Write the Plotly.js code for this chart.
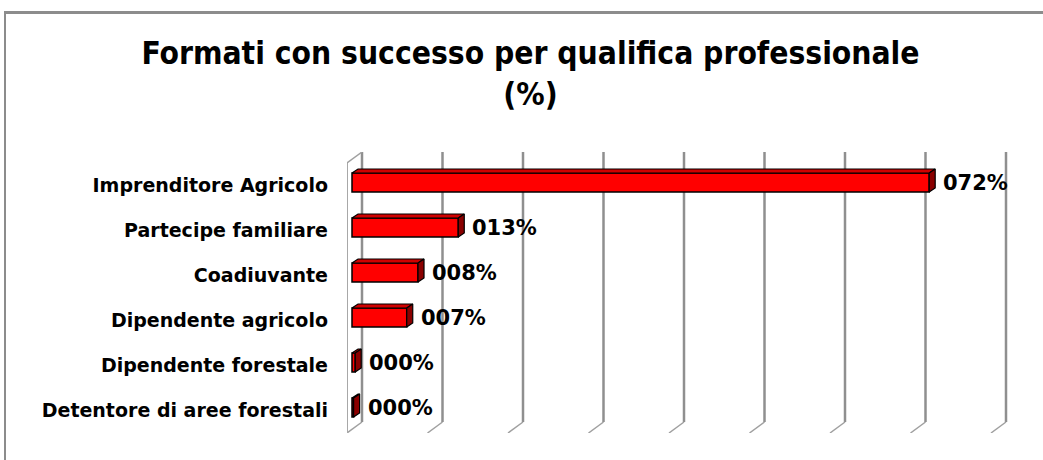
<!DOCTYPE html>
<html>
<head>
<meta charset="utf-8">
<script src="https://cdn.plot.ly/plotly-3.0.1.min.js"></script>
<style>
  html, body { margin: 0; padding: 0; background: #ffffff; }
  #wrap { position: relative; width: 1043px; height: 460px; overflow: hidden; }
  #chart { width: 1043px; height: 460px; }
  #frame { position: absolute; left: 4px; top: 11px; width: 1100px; height: 500px;
           border-left: 2px solid #8c8c8c; border-top: 3px solid #8c8c8c; pointer-events: none; }
</style>
</head>
<body>
<div id="wrap">
  <div id="chart"></div>
  <div id="frame"></div>
</div>
<script>
// ---- data ----
const categories = [
  'Imprenditore Agricolo',
  'Partecipe familiare',
  'Coadiuvante',
  'Dipendente agricolo',
  'Dipendente forestale',
  'Detentore di aree forestali'
];
const values = [71.7, 13.2, 8.2, 6.8, 0.4, 0.2];
const gridTicks = [0, 10, 20, 30, 40, 50, 60, 70, 80];
const titleText = 'Formati con successo per qualifica professionale<br>(%)';

// ---- geometry (pixel-based 3D offsets converted to axis units) ----
const PX = 8.05;   // px per x unit
const PY = 45;     // px per category
const frameDx = 15 / PX, frameDy = 11 / PY;
const barFront = 10 / PX, barDx = 6 / PX, barDy = 4 / PY;
const barTopOff = -0.278, barH = 0.422;

const idx = categories.map((c, i) => i);
const labels = values.map(v => String(Math.round(v)).padStart(3, '0') + '%');

// front faces
const front = {
  type: 'bar', orientation: 'h',
  x: values, y: idx,
  base: values.map(() => -barFront),
  offset: barTopOff, width: barH,
  marker: { color: '#ff0000', line: { color: '#000000', width: 1.5 } },
  hoverinfo: 'skip', showlegend: false
};

// top and side faces derived from values
const topX = [], topY = [], sideX = [], sideY = [];
values.forEach((v, i) => {
  const x0 = -barFront, x1 = v - barFront, yt = i + barTopOff, yb = yt + barH;
  topX.push(x0, x1, x1 + barDx, x0 + barDx, x0, null);
  topY.push(yt, yt, yt - barDy, yt - barDy, yt, null);
  sideX.push(x1, x1, x1 + barDx, x1 + barDx, x1, null);
  sideY.push(yt, yb, yb - barDy, yt - barDy, yt, null);
});
const topFace = {
  type: 'scatter', mode: 'lines', x: topX, y: topY, fill: 'toself',
  fillcolor: '#d00000', line: { color: '#000000', width: 1.2 },
  hoverinfo: 'skip', showlegend: false
};
const sideFace = {
  type: 'scatter', mode: 'lines', x: sideX, y: sideY, fill: 'toself',
  fillcolor: '#8a0000', line: { color: '#000000', width: 1.2 },
  hoverinfo: 'skip', showlegend: false
};

// frame / gridlines
const yTopBack = -0.5 - frameDy, yFloorBack = categories.length - 0.5 - frameDy, yFloorFront = categories.length - 0.5;
const shapes = [];
gridTicks.forEach(t => {
  shapes.push({ type: 'line', layer: 'below', xref: 'x', yref: 'y', x0: t, x1: t, y0: yTopBack, y1: yFloorBack,
                line: { color: '#8f8f8f', width: 2.5 } });
  shapes.push({ type: 'line', layer: 'below', xref: 'x', yref: 'y', x0: t, x1: t - frameDx, y0: yFloorBack, y1: yFloorFront,
                line: { color: '#a0a0a0', width: 1.5 } });
});
// left wall
shapes.push({ type: 'line', layer: 'below', xref: 'x', yref: 'y', x0: -frameDx, x1: -frameDx, y0: -0.5, y1: yFloorFront,
              line: { color: '#a8a8a8', width: 2 } });
shapes.push({ type: 'line', layer: 'below', xref: 'x', yref: 'y', x0: -frameDx, x1: 0, y0: -0.5, y1: yTopBack,
              line: { color: '#a0a0a0', width: 1.5 } });
for (let k = 0; k <= categories.length; k++) {
  shapes.push({ type: 'line', layer: 'below', xref: 'x', yref: 'y', xsizemode: 'pixel', xanchor: -frameDx,
                x0: -5, x1: 0, y0: k - 0.5, y1: k - 0.5, line: { color: '#8f8f8f', width: 2 } });
}

const annotations = values.map((v, i) => ({
  x: v - barFront + barDx, y: i - 0.055, xref: 'x', yref: 'y',
  text: labels[i], showarrow: false, xanchor: 'left', yanchor: 'middle', xshift: 6,
  font: { family: 'DejaVu Sans', size: 21, color: '#000000', weight: 'bold' }
}));

const layout = {
  width: 1043, height: 460,
  margin: { l: 347, r: 31, t: 152, b: 27 },
  paper_bgcolor: '#ffffff', plot_bgcolor: 'rgba(0,0,0,0)',
  title: {
    text: titleText, x: 530.5 / 1043, xref: 'container', xanchor: 'center',
    y: 1 - 64 / 460, yref: 'container', yanchor: 'middle',
    font: { family: 'DejaVu Sans Condensed, DejaVu Sans', size: 31.5, color: '#000000', weight: 'bold' }
  },
  xaxis: { range: [-frameDx, -frameDx + 665 / PX], showgrid: false, zeroline: false,
           showticklabels: false, ticks: '', showline: false, fixedrange: true },
  yaxis: { range: [categories.length - 0.5, -0.5 - frameDy], tickvals: idx, ticktext: categories,
           showgrid: false, zeroline: false, showline: false, ticks: '', ticklabelstandoff: 18,
           tickfont: { family: 'DejaVu Sans', size: 19, color: '#000000', weight: 'bold' }, fixedrange: true },
  shapes: shapes,
  annotations: annotations,
  bargap: 0
};

Plotly.newPlot('chart', [front, topFace, sideFace], layout, { displayModeBar: false, staticPlot: true });
</script>
</body>
</html>
